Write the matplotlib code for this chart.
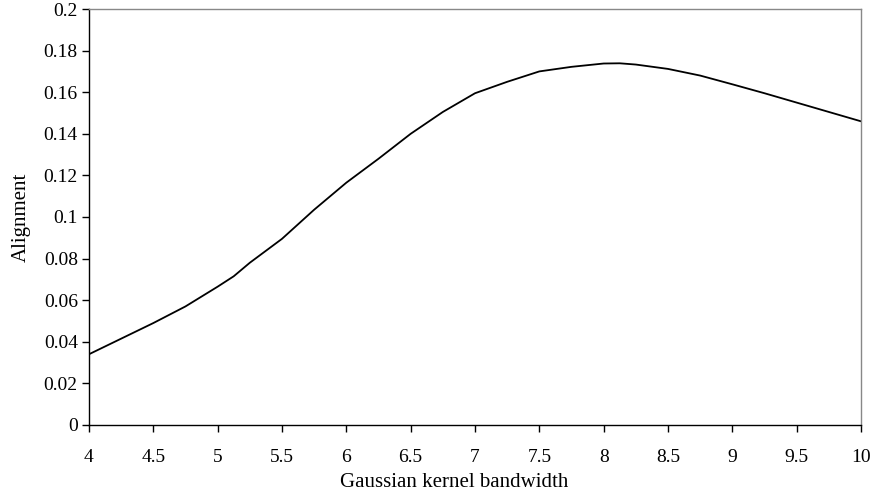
import numpy as np
import matplotlib
matplotlib.use("Agg")
import matplotlib.pyplot as plt

plt.rcParams['font.family'] = ['Liberation Serif', 'DejaVu Serif']

# kernel bandwidth vs. alignment
bandwidth = [4.0, 4.25, 4.5, 4.75, 5.0, 5.125, 5.25, 5.5, 5.75, 6.0, 6.25, 6.5,
             6.75, 6.875, 7.0, 7.25, 7.5, 7.75, 8.0, 8.125, 8.25, 8.5, 8.75,
             9.0, 9.25, 9.5, 9.75, 10.0]
alignment = [0.034, 0.0415, 0.049, 0.057, 0.0665, 0.0715, 0.078, 0.0895, 0.1035,
             0.1165, 0.128, 0.140, 0.1505, 0.155, 0.1595, 0.165, 0.1700, 0.1722,
             0.1738, 0.1739, 0.1733, 0.1712, 0.1680, 0.1638, 0.1595, 0.1550,
             0.1505, 0.1460]

xticks = [4, 4.5, 5, 5.5, 6, 6.5, 7, 7.5, 8, 8.5, 9, 9.5, 10]
xticklabels = ['4', '4.5', '5', '5.5', '6', '6.5', '7', '7.5', '8', '8.5', '9', '9.5', '10']
yticks = [0, 0.02, 0.04, 0.06, 0.08, 0.1, 0.12, 0.14, 0.16, 0.18, 0.2]
yticklabels = ['0', '0.02', '0.04', '0.06', '0.08', '0.1', '0.12', '0.14', '0.16', '0.18', '0.2']

fig = plt.figure(figsize=(8.73, 4.9), dpi=100)
ax = fig.add_axes([0.1019, 0.1327, 0.8844, 0.8489])

ax.plot(bandwidth, alignment, color='black', linewidth=1.3)

ax.set_xlim(4, 10)
ax.set_ylim(0, 0.2)
ax.set_xticks(xticks)
ax.set_xticklabels(xticklabels)
ax.set_yticks(yticks)
ax.set_yticklabels(yticklabels)

for side in ('top', 'right'):
    ax.spines[side].set_color('#888888')
for side in ('left', 'bottom'):
    ax.spines[side].set_color('black')
for sp in ax.spines.values():
    sp.set_linewidth(1.0)

ax.tick_params(axis='both', direction='out', length=5, width=1.0,
               labelsize=14, colors='black')
ax.tick_params(axis='x', pad=12)
ax.tick_params(axis='y', pad=3)

ax.set_xlabel('Gaussian kernel bandwidth', fontsize=15, labelpad=5)
ax.xaxis.label.set_x(0.473)
ax.set_ylabel('Alignment', fontsize=15, labelpad=9)

fig.savefig('out.png', dpi=100)
